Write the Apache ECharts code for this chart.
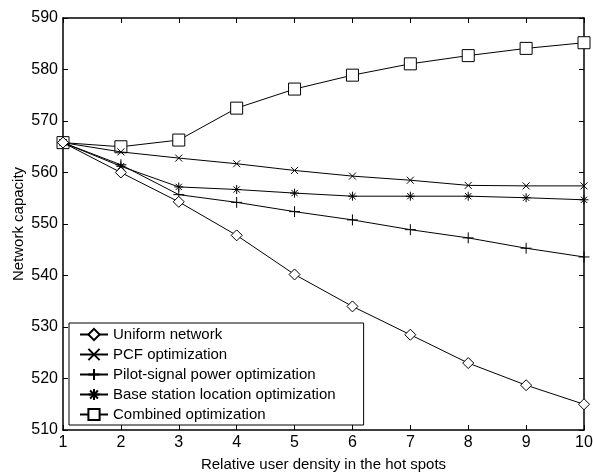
<!DOCTYPE html>
<html><head><meta charset="utf-8">
<script src="https://cdn.jsdelivr.net/npm/echarts@6/dist/echarts.min.js"></script>
<style>html,body{margin:0;padding:0;background:#fff}#c{width:593px;height:474px}</style>
</head><body><div id="c"></div>
<script>
const xValues = [1,2,3,4,5,6,7,8,9,10];
const seriesNames = ['Uniform network','PCF optimization','Pilot-signal power optimization','Base station location optimization','Combined optimization'];
const uniform  = [565.8,560.0,554.3,547.8,540.2,534.0,528.5,523.0,518.7,515.0];
const pcf      = [565.8,564.0,562.8,561.7,560.4,559.3,558.5,557.5,557.4,557.4];
const pilot    = [565.8,561.5,555.7,554.2,552.4,550.8,548.9,547.3,545.3,543.6];
const baseStat = [565.8,561.2,557.2,556.7,556.0,555.4,555.4,555.4,555.1,554.7];
const combined = [565.8,565.0,566.3,572.5,576.2,578.9,581.1,582.7,584.1,585.2];
const yTicks = [510,520,530,540,550,560,570,580,590];

const sym = {
  circle: 'diamond',
  x: 'path://M0,0L10,10M10,0L0,10',
  plus: 'path://M5,0L5,10M0,5L10,5',
  star: 'path://M5,0L5,10M0,5L10,5M1.5,1.5L8.5,8.5M8.5,1.5L1.5,8.5',
  square: 'rect'
};
const dataSets = [uniform, pcf, pilot, baseStat, combined];
const symbols = [sym.circle, sym.x, sym.plus, sym.star, sym.square];
const sizes = [11, 7, 11, 9, 12];
const font = 'Liberation Sans, Arial, sans-serif';

const chart = echarts.init(document.getElementById('c'), null, {renderer:'canvas'});
const axisCommon = {
  type:'value', axisLine:{show:true, lineStyle:{color:'#000', width:1.5}},
  splitLine:{show:false}, axisTick:{show:true, inside:true, length:5, lineStyle:{color:'#000'}}
};
chart.setOption({
  animation:false,
  backgroundColor:'#fff',
  grid:{left:63, right:9, top:18, bottom:44, containLabel:false, outerBoundsMode:'none'},
  xAxis:[
    Object.assign({}, axisCommon, {min:1, max:10, interval:1, position:'bottom',
      name:'Relative user density in the hot spots', nameLocation:'middle', nameGap:27,
      nameTextStyle:{color:'#000', fontSize:15, fontFamily:font},
      axisLabel:{color:'#000', fontSize:16, fontFamily:font, margin:5}}),
    Object.assign({}, axisCommon, {min:1, max:10, interval:1, position:'top', axisLabel:{show:false}})
  ],
  yAxis:[
    Object.assign({}, axisCommon, {min:yTicks[0], max:yTicks[yTicks.length-1], interval:10, position:'left',
      name:'Network capacity', nameLocation:'middle', nameGap:37, nameMoveOverlap:false,
      nameTextStyle:{color:'#000', fontSize:15, fontFamily:font},
      axisLabel:{color:'#000', fontSize:16, fontFamily:font, margin:5}}),
    Object.assign({}, axisCommon, {min:yTicks[0], max:yTicks[yTicks.length-1], interval:10, position:'right', axisLabel:{show:false}})
  ],
  legend:{
    orient:'vertical', left:69, top:323,
    backgroundColor:'#fff', borderColor:'#000', borderWidth:1,
    padding:[4,28,3,10], itemGap:5, itemWidth:28, itemHeight:14,
    textStyle:{color:'#000', fontSize:15, fontFamily:font},
    data: seriesNames
  },
  series: seriesNames.map((n,i)=>({
    name:n, type:'line',
    data: xValues.map((x,j)=>[x, dataSets[i][j]]),
    symbol: symbols[i], symbolSize: sizes[i], showSymbol:true,
    lineStyle:{color:'#000', width:1},
    itemStyle:{color:'#fff', borderColor:'#000', borderWidth:1},
    z: 10-i
  }))
});
</script></body></html>
